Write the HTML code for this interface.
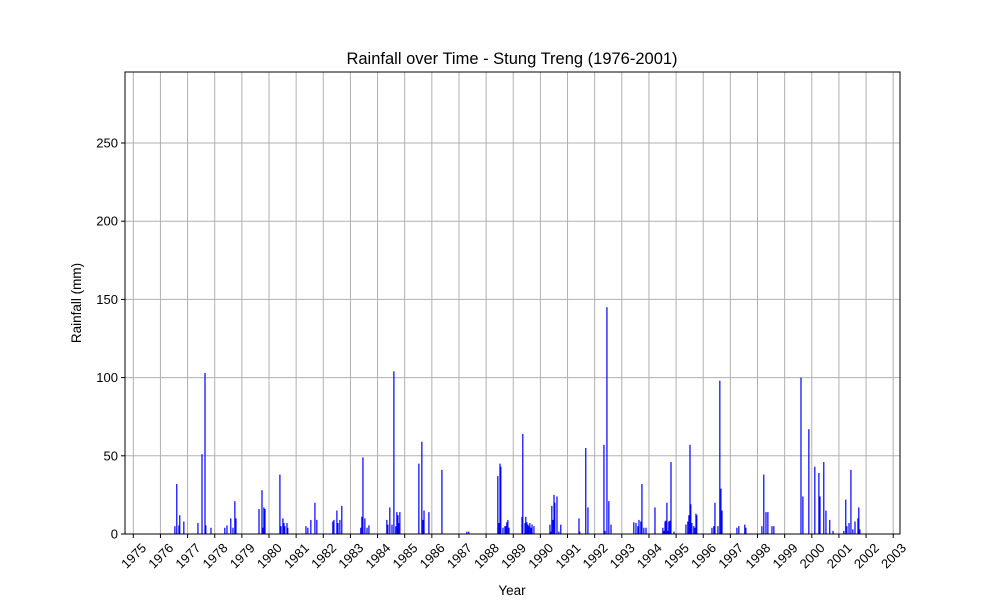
<!DOCTYPE html>
<html><head><meta charset="utf-8"><style>
body{margin:0;background:#fff;font-family:"Liberation Sans","DejaVu Sans",sans-serif}
</style></head><body>
<svg id="chart" width="1000" height="600" xmlns="http://www.w3.org/2000/svg">
<rect width="1000" height="600" fill="#fff"/>
<g id="grid"></g>
<g id="bars"></g>
<g id="axes"></g>
<text x="512" y="64" text-anchor="middle" font-size="16.5">Rainfall over Time - Stung Treng (1976-2001)</text>
<text x="512" y="595" text-anchor="middle" font-size="13.5">Year</text>
<text transform="translate(81,303) rotate(-90)" text-anchor="middle" font-size="13.5">Rainfall (mm)</text>
</svg>
<script>
const dates=[1976.51,1976.58,1976.66,1976.69,1976.84,1977.36,1977.51,1977.62,1977.65,1977.84,1978.35,1978.43,1978.57,1978.65,1978.72,1978.76,1979.61,1979.72,1979.75,1979.79,1979.83,1980.38,1980.42,1980.49,1980.53,1980.56,1980.64,1980.67,1981.34,1981.41,1981.52,1981.67,1981.74,1982.33,1982.37,1982.48,1982.52,1982.59,1982.66,1983.36,1983.40,1983.44,1983.51,1983.59,1983.66,1984.32,1984.36,1984.43,1984.51,1984.58,1984.65,1984.69,1984.73,1984.76,1984.80,1985.50,1985.61,1985.65,1985.69,1985.87,1986.35,1987.27,1987.34,1988.41,1988.45,1988.49,1988.52,1988.60,1988.67,1988.71,1988.74,1988.78,1988.82,1989.30,1989.33,1989.41,1989.44,1989.48,1989.52,1989.55,1989.59,1989.63,1989.67,1989.74,1990.33,1990.37,1990.40,1990.44,1990.48,1990.51,1990.59,1990.66,1990.73,1991.40,1991.43,1991.65,1991.73,1992.32,1992.36,1992.43,1992.50,1992.58,1993.42,1993.50,1993.57,1993.61,1993.68,1993.72,1993.79,1993.87,1994.20,1994.49,1994.53,1994.57,1994.60,1994.64,1994.68,1994.71,1994.75,1994.79,1994.90,1995.34,1995.41,1995.45,1995.49,1995.52,1995.56,1995.63,1995.67,1995.71,1995.74,1996.30,1996.37,1996.41,1996.52,1996.59,1996.63,1996.67,1997.22,1997.29,1997.51,1997.55,1998.14,1998.21,1998.29,1998.36,1998.51,1998.58,1999.58,1999.65,1999.87,2000.09,2000.24,2000.28,2000.42,2000.50,2000.64,2000.76,2001.16,2001.23,2001.27,2001.35,2001.42,2001.49,2001.57,2001.68,2001.71,2001.75];
const rain=[5,32,5.5,12,8,7,51,103,5.5,4,4,5.5,10,4,21,10,16,28,4,17,16,38,5,10,7,5,7,4,5,4,9,20,9,8,9,15,7,9,18,4,11,49,10,4,5.5,9,6,17,6,104,5,14,12,7,14,45,59,9,15,14,41,1.5,1.5,37,7,45,43,4,5,5,7.5,9,4,11,64,7,11,7.5,6,5,7,4,6,5,6,1.5,18,9,25,20,24,1.5,6,10,1.5,55,17,57,2,145,21,6,7.5,7,5,9,8,32,4,4,17,4,2,8,8.5,20,2,8,8.5,46,1.5,6,8,12,57,19,7,5,4,13,12,4,5,20,5,98,29,15,4,5,6,4,5,38,14,14,5,5,100,24,67,43,39,24,46,15,9,2,2,22,5,7,41,3,8,10,17,3];
const yTicks=[0,50,100,150,200,250];
const xTicks=[1975,1976,1977,1978,1979,1980,1981,1982,1983,1984,1985,1986,1987,1988,1989,1990,1991,1992,1993,1994,1995,1996,1997,1998,1999,2000,2001,2002,2003];
const L=125,R=900,T=72,B=534,ymax=295.4,x0=1975,x1=2003,px0=133.3,px1=893.2;
const X=d=>px0+(d-x0)*(px1-px0)/(x1-x0);
const Y=v=>B-v*(B-T)/ymax;
const NS="http://www.w3.org/2000/svg";
function mk(p,tag,at){const e=document.createElementNS(NS,tag);for(const k in at)e.setAttribute(k,at[k]);p.appendChild(e);return e;}
const grid=document.getElementById('grid'),bars=document.getElementById('bars'),axes=document.getElementById('axes');
xTicks.forEach(t=>{const x=X(t);
 const g=mk(grid,'line',{x1:x,x2:x,y1:T,y2:B,stroke:'#b0b0b0','stroke-width':1});
 
 const tk=mk(axes,'line',{x1:x,x2:x,y1:B,y2:B+4,stroke:'#000','stroke-width':1});
 
 const tx=mk(axes,'text',{transform:`translate(${x+7},${B+8}) rotate(-45)`,'text-anchor':'end','font-size':13,'dominant-baseline':'hanging'});
 tx.textContent=t;
 
});
yTicks.forEach(t=>{const y=Y(t);
 const g=mk(grid,'line',{x1:L,x2:R,y1:y,y2:y,stroke:'#b0b0b0','stroke-width':1});
 
 const tk=mk(axes,'line',{x1:L-4,x2:L,y1:y,y2:y,stroke:'#000','stroke-width':1});
 
 const tx=mk(axes,'text',{x:L-7,y:y+4.5,'text-anchor':'end','font-size':13});
 tx.textContent=t;
 
});
dates.forEach((d,i)=>{const x=X(d),y=Y(rain[i]);
 const r=mk(bars,'rect',{x:x,y:y,width:1.2,height:B-y,fill:'#0000ff'});
 
});
const fr=mk(axes,'rect',{x:L,y:T,width:R-L,height:B-T,fill:'none',stroke:'#000','stroke-width':1});

</script>
</body></html>
